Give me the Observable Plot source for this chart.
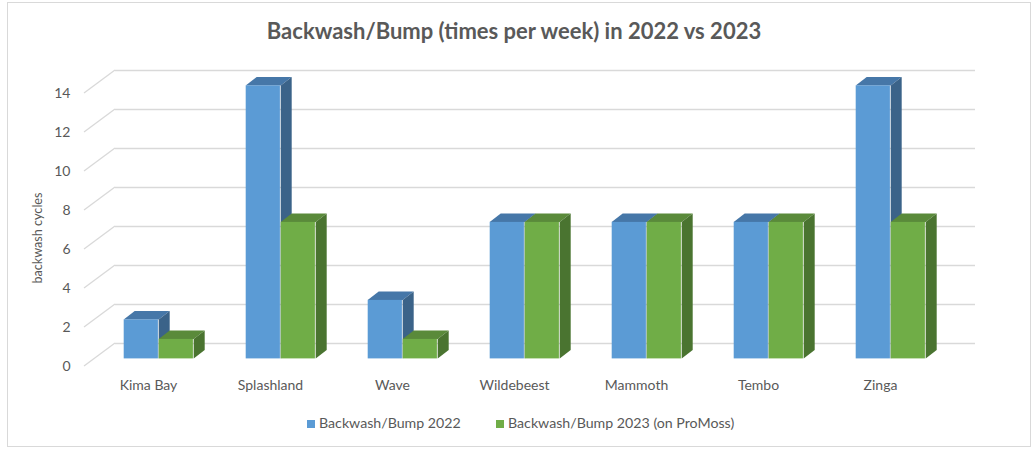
<!DOCTYPE html>
<html>
<head>
<meta charset="utf-8">
<script src="https://cdn.jsdelivr.net/npm/d3@7"></script>
<script src="https://cdn.jsdelivr.net/npm/@observablehq/plot@0.6"></script>
<style>
  html, body { margin: 0; padding: 0; background: #ffffff; }
  #wrap { position: relative; width: 1033px; height: 450px; overflow: hidden; font-family: Lato, "Open Sans", sans-serif; }
  #frame { position: absolute; left: 7px; top: 2px; width: 1024px; height: 445px; border: 1px solid #d9d9d9; box-sizing: border-box; }
  #title { position: absolute; left: 0; width: 1028px; top: 20px; text-align: center; font-size: 22px; font-weight: bold; color: #595959; line-height: 22px; white-space: nowrap; }
  #chart { position: absolute; left: 0; top: 0; }
  #ytitle { position: absolute; left: 37.5px; top: 238px; width: 0; height: 0; }
  #ytitle span { position: absolute; left: 0; top: 0; transform: translate(-50%, -50%) rotate(-90deg); white-space: nowrap; font-size: 12.6px; line-height: 14px; color: #595959; }
  #legend { position: absolute; top: 414px; left: 0; width: 1033px; height: 18px; font-size: 14.2px; color: #595959; }
  .item { position: absolute; top: 0; line-height: 18px; white-space: nowrap; }
  .sw { display: inline-block; width: 8px; height: 8px; margin-right: 4px; vertical-align: 0px; }
</style>
</head>
<body>
<div id="wrap">
  <div id="frame"></div>
  <div id="chart"></div>
  <div id="title">Backwash/Bump (times per week) in 2022 vs 2023</div>
  <div id="ytitle"><span></span></div>
  <div id="legend"></div>
</div>
<script>
// ---- data ----
const categories = ["Kima Bay", "Splashland", "Wave", "Wildebeest", "Mammoth", "Tembo", "Zinga"];
const values2022 = [2, 14, 3, 7, 7, 7, 14];
const values2023 = [1, 7, 1, 7, 7, 7, 7];
const seriesNames = ["Backwash/Bump 2022", "Backwash/Bump 2023 (on ProMoss)"];
const yTicks = [0, 2, 4, 6, 8, 10, 12, 14];
const yTitle = "backwash cycles";

const rows = categories.map((cat, i) => ({cat, v2022: values2022[i], v2023: values2023[i]}));

// ---- 3D look (pixels) ----
const WALL_DX = 31, WALL_DY = -23;     // depth of side wall
const FRONT_DY = -7.6;                 // bars' front plane lift
const DEPTH_DX = 11, DEPTH_DY = -8.4;  // bar depth
const BAR_W = 35;
const IN_L_2022 = 36.7, IN_R_2022 = 51.1;
const IN_L_2023 = 71.7, IN_R_2023 = 16.1;

const colors = {
  blue: {front: "#5b9bd5", top: "#4677a8", side: "#3b6389"},
  green: {front: "#70ad47", top: "#5a8a3a", side: "#4a7430"}
};

function depthFaces(key, insetLeft, col) {
  return (index, scales) => {
    const {x, y} = scales;
    const g = d3.create("svg:g");
    for (const r of rows) {
      const L = x(r.cat) + insetLeft, R = L + BAR_W;
      const T = y(r[key]) + FRONT_DY, B = y(0) + FRONT_DY;
      g.append("polygon")
        .attr("points", [[L, T], [R, T], [R + DEPTH_DX, T + DEPTH_DY], [L + DEPTH_DX, T + DEPTH_DY]].map(p => p.join(",")).join(" "))
        .attr("fill", col.top);
      g.append("polygon")
        .attr("points", [[R, T], [R + DEPTH_DX, T + DEPTH_DY], [R + DEPTH_DX, B + DEPTH_DY], [R, B]].map(p => p.join(",")).join(" "))
        .attr("fill", col.side);
    }
    return g.node();
  };
}

function sideWall(index, scales) {
  const {x, y} = scales;
  const x0 = x.range()[0];
  const g = d3.create("svg:g");
  for (const t of yTicks) {
    g.append("line")
      .attr("x1", x0).attr("y1", y(t))
      .attr("x2", x0 + WALL_DX).attr("y2", y(t) + WALL_DY)
      .attr("stroke", "#d9d9d9").attr("stroke-width", 1.3);
  }
  return g.node();
}

const chart = Plot.plot({
  width: 1033,
  height: 450,
  marginLeft: 84,
  marginRight: 89,
  marginTop: 93,
  marginBottom: 84,
  style: {fontFamily: "Lato, 'Open Sans', sans-serif", fontSize: "14px", color: "#595959", background: "transparent", overflow: "visible"},
  x: {domain: categories, padding: 0, tickSize: 0, tickPadding: 14, label: null},
  y: {domain: [0, 14], ticks: yTicks, tickSize: 0, tickPadding: 14, label: null},
  marks: [
    Plot.ruleY(yTicks, {stroke: "#d9d9d9", strokeWidth: 1.3, dx: WALL_DX, dy: WALL_DY}),
    sideWall,
    depthFaces("v2022", IN_L_2022, colors.blue),
    Plot.barY(rows, {x: "cat", y: "v2022", fill: colors.blue.front, insetLeft: IN_L_2022, insetRight: IN_R_2022, dy: FRONT_DY}),
    depthFaces("v2023", IN_L_2023, colors.green),
    Plot.barY(rows, {x: "cat", y: "v2023", fill: colors.green.front, insetLeft: IN_L_2023, insetRight: IN_R_2023, dy: FRONT_DY})
  ]
});
document.getElementById("chart").appendChild(chart);
document.querySelector("#ytitle span").textContent = yTitle;

// legend
const legend = document.getElementById("legend");
const lx = [307, 496];
const lc = [colors.blue.front, colors.green.front];
seriesNames.forEach((name, i) => {
  const item = document.createElement("div");
  item.className = "item";
  item.style.left = lx[i] + "px";
  const sw = document.createElement("span");
  sw.className = "sw";
  sw.style.background = lc[i];
  item.appendChild(sw);
  item.appendChild(document.createTextNode(name));
  legend.appendChild(item);
});
</script>
</body>
</html>
